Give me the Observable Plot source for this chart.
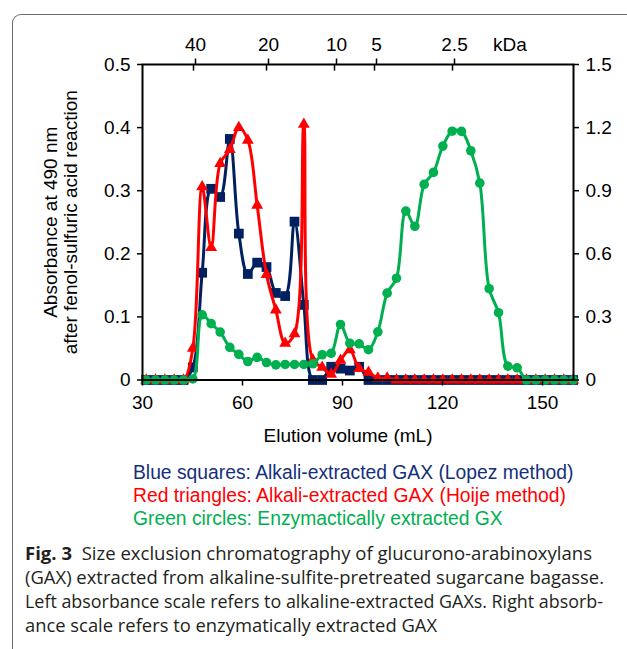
<!DOCTYPE html>
<html><head><meta charset="utf-8">
<script src="https://cdn.jsdelivr.net/npm/d3@7"></script>
<script src="https://cdn.jsdelivr.net/npm/@observablehq/plot@0.6"></script>
<style>
body{margin:0;background:#fff;width:627px;height:649px;overflow:hidden;position:relative;font-family:"Liberation Sans",Arial,sans-serif}
#border{position:absolute;left:12px;top:14px;width:660px;height:680px;border-left:1.5px solid #6a6a6a;border-top:1.5px solid #6a6a6a;border-top-left-radius:9px;box-sizing:border-box}
#chart{position:absolute;left:0;top:0}
#legend{position:absolute;left:133px;top:460.5px;font-size:19.3px;line-height:23px;white-space:nowrap}
#caption{position:absolute;left:25px;top:541px;font-family:"Open Sans",sans-serif;font-size:18px;line-height:24px;color:#231f20}
.cl{white-space:nowrap;transform-origin:left center;width:max-content}
</style></head><body>
<div id="border"></div>
<div id="chart"></div>
<div id="legend"></div>
<div id="caption"></div>
<script>
// Elution volume of each collected fraction (mL)
const volume = [31.1,33.9,36.7,39.5,42.3,45.1,47.9,50.6,53.3,56.2,58.9,61.6,64.4,67.2,70.0,72.8,75.6,78.4,81.1,83.9,86.6,89.4,92.2,95.0,97.8,100.6,103.4,106.2,109.0,111.7,114.5,117.3,120.1,122.9,125.7,128.5,131.2,134.0,136.8,139.6,142.4,145.2,148.0,150.8,153.6,156.4,159.2];
// Left absorbance scale
const blueLopez = [0,0,0,0,0,0.02,0.17,0.303,0.29,0.382,0.232,0.168,0.186,0.179,0.138,0.133,0.251,0.119,0,0,0.021,0.018,0.015,0.021,0,0,0,0,0,0,0,0,0,0,0,0,0,0,0,0,0,0,0,0,0,0,0];
const redHoije = [0,0,0,0,0,0.05,0.306,0.21,0.343,0.365,0.40,0.38,0.277,0.167,0.111,0.058,0.073,0.405,0.032,0.02,0.009,0.031,0.048,0.018,0.012,0.003,0.003,0,0,0,0,0,0,0,0,0,0,0,0,0,0,0,0,0,0,0,0];
// Right absorbance scale
const greenEnzymatic = [0,0,0,0,0,0.005,0.31,0.268,0.228,0.155,0.122,0.088,0.108,0.083,0.072,0.074,0.074,0.074,0.077,0.12,0.127,0.264,0.175,0.172,0.144,0.229,0.413,0.484,0.803,0.731,0.930,0.987,1.112,1.183,1.182,1.09,0.936,0.434,0.32,0.066,0.058,0,0,0,0,0,0];

const xTicks = [30,60,90,120,150];
const leftTicks = [0,0.1,0.2,0.3,0.4,0.5];
const leftTickLabels = ["0","0.1","0.2","0.3","0.4","0.5"];
const rightTickLabels = ["0","0.3","0.6","0.9","1.2","1.5"];
const rightScaleFactor = 3;
const kdaPositions = [45.3,67.2,87.6,99.6,123.0];
const kdaLabels = ["40","20","10","5","2.5"];
const kdaUnit = "kDa";
const kdaUnitPosition = 140.2;
const xTitle = "Elution volume (mL)";
const yTitle = "Absorbance at 490 nm\nafter fenol-sulfuric acid reaction";
const legendLines = [
  {text:"Blue squares: Alkali-extracted GAX (Lopez method)", color:"#142f7c"},
  {text:"Red triangles: Alkali-extracted GAX (Hoije method)", color:"#ff0000"},
  {text:"Green circles: Enzymactically extracted GX", color:"#00b050"}
];
const captionLines = [
  "<b>Fig. 3</b>&nbsp; Size exclusion chromatography of glucurono-arabinoxylans",
  "(GAX) extracted from alkaline-sulfite-pretreated sugarcane bagasse.",
  "Left absorbance scale refers to alkaline-extracted GAXs. Right absorb-",
  "ance scale refers to enzymatically extracted GAX"
];
const captionWidths = [567, 579, 578, 412];

const navy = "#002060", red = "#ff0000", green = "#00b050";
const rows = volume.map((v,i)=>({v, b: blueLopez[i], r: redHoije[i], g: greenEnzymatic[i] / rightScaleFactor}));

const chart = Plot.plot({
  width: 627, height: 450,
  marginLeft: 142, marginRight: 54, marginTop: 64, marginBottom: 70.5,
  x: {domain: [30, 159.3]},
  y: {domain: [0, 0.5]},
  style: {fontFamily: "'Liberation Sans', Arial, sans-serif", fontSize: "19px", color: "#000", background: "transparent"},
  marks: [
    Plot.line(rows, {x: "v", y: "b", stroke: navy, strokeWidth: 3, curve: "catmull-rom"}),
    Plot.dot(rows, {x: "v", y: "b", symbol: "square", r: 5.5, fill: navy, stroke: "none"}),
    Plot.line(rows, {x: "v", y: "r", stroke: red, strokeWidth: 3, curve: "catmull-rom"}),
    Plot.dot(rows, {x: "v", y: "r", symbol: "triangle", r: 4.4, fill: red, stroke: "none"}),
    Plot.line(rows, {x: "v", y: "g", stroke: green, strokeWidth: 3, curve: "catmull-rom"}),
    Plot.dot(rows, {x: "v", y: "g", symbol: "circle", r: 4.8, fill: green, stroke: "none"}),
    Plot.frame({stroke: "#000", strokeWidth: 2}),
    Plot.axisY({anchor: "left", ticks: leftTicks, tickFormat: d => leftTickLabels[leftTicks.indexOf(d)], tickSize: 5, tickPadding: 7, label: null, strokeWidth: 1.5}),
    Plot.axisY({anchor: "right", ticks: leftTicks, tickFormat: d => rightTickLabels[leftTicks.indexOf(d)], tickSize: 5, tickPadding: 7, label: null, strokeWidth: 1.5}),
    Plot.axisX({anchor: "bottom", ticks: xTicks, tickSize: 6, tickPadding: 9, label: null, strokeWidth: 1.5}),
    Plot.axisX({anchor: "top", ticks: kdaPositions, tickFormat: d => kdaLabels[kdaPositions.indexOf(d)], tickSize: 6.5, tickPadding: 7.5, label: null, strokeWidth: 1.5, dx: 2}),
    Plot.ruleX(kdaPositions, {x: d => d, y1: 0.5, y2: 0.5 - 0.0105, stroke: "#000", strokeWidth: 1.5}),
    Plot.text([kdaUnit], {x: kdaUnitPosition, frameAnchor: "top", lineAnchor: "bottom", dy: -14, fontSize: 19}),
    Plot.text([xTitle], {frameAnchor: "bottom", lineAnchor: "middle", dy: 56, dx: -10, fontSize: 19}),
    Plot.text([yTitle], {frameAnchor: "left", textAnchor: "middle", rotate: -90, lineAnchor: "middle", dx: -82, lineHeight: 1.08, fontSize: 19})
  ]
});
document.getElementById("chart").appendChild(chart);

const lg = document.getElementById("legend");
legendLines.forEach(l => { const d = document.createElement("div"); d.textContent = l.text; d.style.color = l.color; lg.appendChild(d); });

const cap = document.getElementById("caption");
captionLines.forEach((t, i) => {
  const d = document.createElement("div"); d.className = "cl"; d.innerHTML = t; cap.appendChild(d);
  const w = d.getBoundingClientRect().width;
  d.style.transform = `scaleX(${captionWidths[i] / w})`;
});
</script>
</body></html>
